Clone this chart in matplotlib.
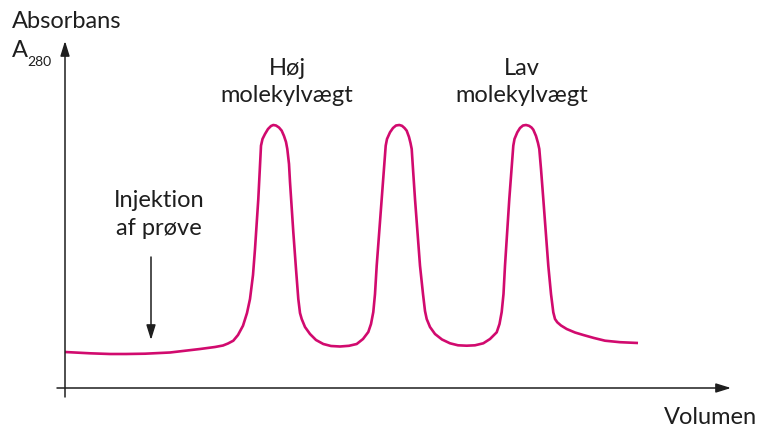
import matplotlib.pyplot as plt

plt.rcParams["font.family"] = ["Lato", "DejaVu Sans"]

# chromatogram trace: elution volume vs absorbance (arbitrary units)
volume = [0, 25, 45, 61, 80, 105, 135, 150, 158, 163, 168.3, 173, 178, 182, 185, 188,
          190, 193.3, 196, 197.5, 200, 203, 206, 208.3, 211, 214, 216.7, 219, 221, 222.3,
          224, 225, 228.3, 231, 233.3, 235, 236.7, 240, 245, 251, 258.3, 266, 275, 284,
          291.7, 298, 303.3, 306, 308.3, 310, 311.7, 316.7, 320.7, 322, 325, 328, 331,
          334.3, 337, 339.5, 341.7, 344, 345.5, 346.7, 348, 350, 355, 358, 360, 361.7,
          365, 370, 377, 385, 393, 401.7, 410, 418.3, 425, 431.7, 434.5, 436.7, 438.5,
          440, 444.3, 448.3, 449.5, 452.3, 455, 458, 461, 464, 466.5, 468.3, 471, 473,
          474.3, 476, 478.3, 483.3, 486, 488.3, 490, 492.3, 496, 501.7, 510, 518.3, 529,
          540, 555, 573]
absorbance = [36, 34.7, 34, 34, 34.3, 35.5, 39, 41, 42.5, 44.5, 47.3, 53, 62.3, 75, 89, 113,
              139, 189, 242.3, 249, 254, 259, 262, 263, 262.5, 260.5, 257.3, 252, 246, 239,
              224, 206, 156, 119, 89, 75, 69, 61, 54, 48, 44, 42, 41.5, 42.2,
              44, 49, 56, 64, 76, 94, 122.3, 189, 242.3, 249, 255.7, 260, 262.5,
              263, 262.2, 260, 257.3, 251, 245, 239, 219, 189, 122.3, 94, 77, 69,
              61, 54, 48.5, 44.7, 42.7, 42.3, 42.7, 44.7, 49, 55.7, 64, 76, 94,
              122.3, 189, 242.3, 249, 255.7, 260, 262.5, 263, 262.2, 260.5, 258.3, 252, 245,
              239, 219, 189, 122.3, 94, 75.7, 69, 65.7, 62.5, 59, 55.5, 53, 50,
              47.3, 45.8, 45]

peak_labels = [("Høj", "molekylvægt", 222), ("Lav", "molekylvægt", 457)]
injection_x = 86

line_color = "#d10a6e"
text_color = "#1e1e1e"

fig = plt.figure(figsize=(7.59, 4.27), dpi=100)
ax = fig.add_axes([0, 0, 1, 1])
ax.set_xlim(-65, 694)
ax.set_ylim(-38, 389)
ax.axis("off")

ax.plot(volume, absorbance, color=line_color, linewidth=1.9,
        solid_joinstyle="round", solid_capstyle="butt")

arrow = dict(arrowstyle="-|>,head_length=0.9,head_width=0.28", color=text_color,
             linewidth=1.1, shrinkA=0, shrinkB=0)
ax.annotate("", xy=(0, 347), xytext=(0, -9), arrowprops=arrow)
ax.annotate("", xy=(666, 0), xytext=(-8, 0), arrowprops=arrow)
ax.annotate("", xy=(injection_x, 48), xytext=(injection_x, 131), arrowprops=arrow)

fs = 17
ax.text(-53, 361, "Absorbans", fontsize=fs, color=text_color, ha="left", va="baseline")
ax.text(-53, 332, "A", fontsize=fs, color=text_color, ha="left", va="baseline")
ax.text(-37.5, 323, "280", fontsize=10, color=text_color, ha="left", va="baseline")
ax.text(692, -35, "Volumen", fontsize=fs, color=text_color, ha="right", va="baseline")

for top, bottom, x in peak_labels:
    ax.text(x, 314, top, fontsize=fs, color=text_color, ha="center", va="baseline")
    ax.text(x, 287, bottom, fontsize=fs, color=text_color, ha="center", va="baseline")

ax.text(94, 182, "Injektion", fontsize=fs, color=text_color, ha="center", va="baseline")
ax.text(94, 154, "af prøve", fontsize=fs, color=text_color, ha="center", va="baseline")

fig.savefig("out.png", dpi=100)
